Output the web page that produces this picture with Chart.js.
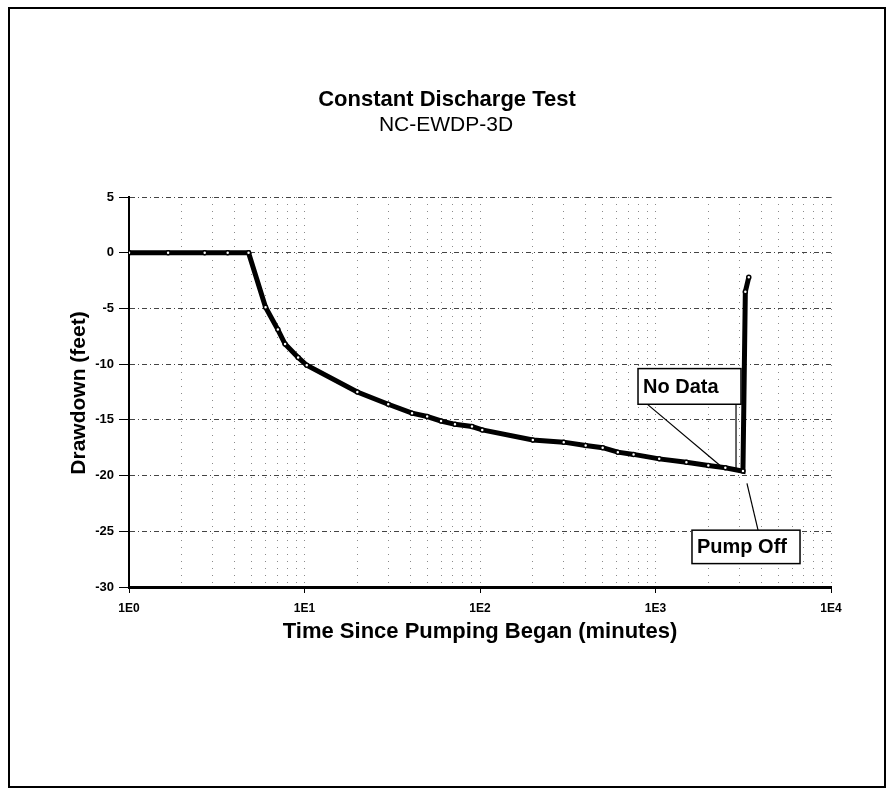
<!DOCTYPE html>
<html>
<head>
<meta charset="utf-8">
<title>Constant Discharge Test</title>
<script src="https://cdn.jsdelivr.net/npm/chart.js@4.4.0/dist/chart.umd.min.js"></script>
<style>
    html, body { margin: 0; padding: 0; background: #fff; }
    #wrap { position: relative; width: 886px; height: 790px; }
</style>
</head>
<body>
<div id="wrap"><canvas id="drawdownChart"></canvas></div>
<script>
// Values
const timeMinutes = [1, 1.67, 2.7, 3.65, 4.8, 6, 7.05, 7.75, 9.2, 10.3, 20, 30, 41, 50, 60, 72, 90, 103, 200, 300, 400, 500, 610, 750, 1050, 1500, 2000, 2500, 3150, 3250, 3400];
const drawdownFeet = [0, 0, 0, 0, 0, -4.9, -6.9, -8.2, -9.4, -10.1, -12.5, -13.6, -14.4, -14.7, -15.1, -15.4, -15.6, -15.9, -16.8, -17.0, -17.3, -17.5, -17.9, -18.1, -18.5, -18.8, -19.1, -19.3, -19.6, -3.5, -2.2];
const xDecades = [1, 10, 100, 1000, 10000];
const xTickLabels = ["1E0", "1E1", "1E2", "1E3", "1E4"];

const chartTitle = "Constant Discharge Test";
const chartSubtitle = "NC-EWDP-3D";
const xTitle = "Time Since Pumping Began (minutes)";
const yTitle = "Drawdown (feet)";

// callout boxes in data units: [x1, y1, x2, y2]
const callouts = [
    { text: "No Data", box: [795, -10.4, 3070, -13.6], leaders: [[883, -13.5, 2333, -19.1], [2876, -13.6, 2876, -19.4]] },
    { text: "Pump Off", box: [1614, -24.9, 6660, -27.9], leaders: [[3320, -20.7, 3840, -24.9]] },
];

const FONT = "'Liberation Sans', Arial, Helvetica, sans-serif";

const points = timeMinutes.map((t, i) => ({ x: t, y: drawdownFeet[i] }));

const decorations = {
    id: "decorations",
    afterDraw(chart) {
        const ctx = chart.ctx;
        const xs = chart.scales.x;
        const ys = chart.scales.y;
        ctx.save();

        // page frame
        ctx.strokeStyle = "#000";
        ctx.lineWidth = 2;
        ctx.strokeRect(9, 8, 876, 779);

        // titles
        ctx.fillStyle = "#000";
        ctx.textAlign = "center";
        ctx.textBaseline = "middle";
        ctx.font = "bold 22px " + FONT;
        ctx.fillText(chartTitle, 447, 100);
        ctx.font = "21px " + FONT;
        ctx.fillText(chartSubtitle, 446, 125);

        ctx.font = "bold 22px " + FONT;
        ctx.fillText(xTitle, 480, 632);
        ctx.save();
        ctx.translate(79, 393);
        ctx.rotate(-Math.PI / 2);
        ctx.font = "bold 21px " + FONT;
        ctx.fillText(yTitle, 0, 0);
        ctx.restore();

        // callouts
        callouts.forEach(c => {
            ctx.strokeStyle = "#000";
            ctx.lineWidth = 1.2;
            c.leaders.forEach(l => {
                ctx.beginPath();
                ctx.moveTo(xs.getPixelForValue(l[0]), ys.getPixelForValue(l[1]));
                ctx.lineTo(xs.getPixelForValue(l[2]), ys.getPixelForValue(l[3]));
                ctx.stroke();
            });
            const x1 = xs.getPixelForValue(c.box[0]);
            const y1 = ys.getPixelForValue(c.box[1]);
            const x2 = xs.getPixelForValue(c.box[2]);
            const y2 = ys.getPixelForValue(c.box[3]);
            ctx.fillStyle = "#fff";
            ctx.fillRect(x1, y1, x2 - x1, y2 - y1);
            ctx.lineWidth = 1.5;
            ctx.strokeRect(x1, y1, x2 - x1, y2 - y1);
            ctx.fillStyle = "#000";
            ctx.font = "bold 20px " + FONT;
            ctx.textAlign = "left";
            ctx.fillText(c.text, x1 + 5, (y1 + y2) / 2 + 1);
        });
        ctx.restore();
    },
};

new Chart(document.getElementById("drawdownChart"), {
    type: "line",
    data: {
        datasets: [
            {
                data: points,
                borderColor: "#000",
                borderWidth: 5,
                tension: 0,
                pointRadius: 2,
                pointBackgroundColor: "#fff",
                pointBorderColor: "#000",
                pointBorderWidth: 1.5,
            },
        ],
    },
    options: {
        responsive: true,
        maintainAspectRatio: false,
        animation: false,
        layout: { padding: { left: 69, right: 55, top: 197, bottom: 143 } },
        plugins: {
            legend: { display: false },
            tooltip: { enabled: false },
            title: { display: false },
        },
        scales: {
            x: {
                type: "logarithmic",
                min: 1,
                max: 10000,
                afterBuildTicks(scale) {
                    const ticks = [];
                    xDecades.forEach((d, i) => {
                        if (i === xDecades.length - 1) {
                            ticks.push({ value: d });
                            return;
                        }
                        for (let m = 1; m < 10; m++) ticks.push({ value: m * d });
                    });
                    scale.ticks = ticks;
                },
                afterFit(scale) {
                    scale.height = 60;
                },
                ticks: {
                    autoSkip: false,
                    maxRotation: 0,
                    padding: 8,
                    color: "#000",
                    font: { family: FONT, size: 12, weight: "bold" },
                    callback: function (value) {
                        const i = xDecades.indexOf(value);
                        return i >= 0 ? xTickLabels[i] : "";
                    },
                },
                grid: {
                    color: "#8a8a8a",
                    lineWidth: 1,
                    tickLength: 6,
                    tickColor: (c) => (c.tick && xDecades.includes(c.tick.value) ? "#000" : "rgba(0,0,0,0)"),
                },
                border: { display: true, color: "#000", width: 3, dash: [1, 6] },
            },
            y: {
                min: -30,
                max: 5,
                afterFit(scale) {
                    scale.width = 60;
                },
                ticks: {
                    stepSize: 5,
                    padding: 5,
                    color: "#000",
                    font: { family: FONT, size: 13, weight: "bold" },
                },
                grid: {
                    color: "#444",
                    lineWidth: 1,
                    tickLength: 10,
                    tickColor: "#000",
                },
                border: { display: true, color: "#000", width: 2, dash: [5, 3, 1, 3] },
            },
        },
    },
    plugins: [decorations],
});
</script>
</body>
</html>
